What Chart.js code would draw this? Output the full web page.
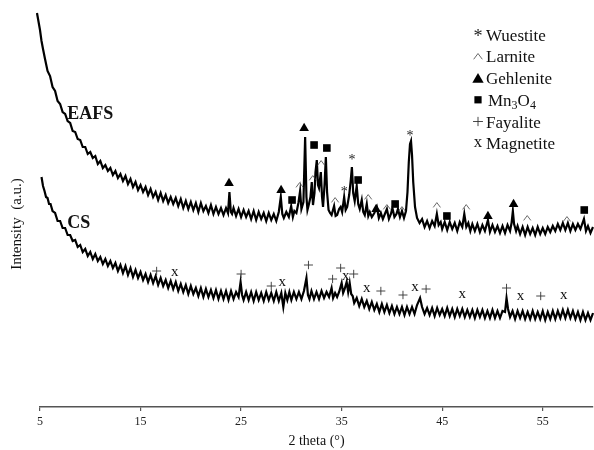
<!DOCTYPE html>
<html>
<head>
<meta charset="utf-8">
<script src="https://cdn.jsdelivr.net/npm/chart.js@4/dist/chart.umd.min.js"></script>
<style>
  html, body { margin: 0; padding: 0; background: #fff; }
  canvas { display: block; }
</style>
</head>
<body>
<canvas id="xrd" width="594" height="450"></canvas>
<script>
// XRD patterns, [2theta, intensity (a.u.)]
const eafs = [
  [4.7,394],[5.0,377],[5.15,366],[5.3,358],[5.5,348],[5.75,336],[6.0,331],[6.25,320],[6.5,316],
  [6.75,306],[7.0,303],[7.25,295],[7.5,293],[7.75,286],[8.0,284],[8.25,276],[8.5,275],[8.75,268],[9.0,267],
  [9.25,260],[9.5,260],[9.75,253],[10.0,255],[10.25,249],[10.5,251],[10.75,243],[11.0,246],[11.25,239],[11.5,242],
  [11.75,236],[12.0,239],[12.25,232],[12.5,236],[12.75,229],[13.0,233],[13.25,226],[13.5,231],[13.75,223],[14.0,228],
  [14.25,220],[14.5,225],[14.75,217],[15.0,222],[15.25,215],[15.5,220],[15.75,212],[16.0,218],[16.25,210],[16.5,215],
  [16.75,207],[17.0,214],[17.25,206],[17.5,212],[17.75,204],[18.0,210],[18.25,203],[18.5,209],[18.75,201],[19.0,208],
  [19.25,199],[19.5,206],[19.75,198],[20.0,205],[20.25,197],[20.5,204],[20.75,195],[21.0,204],[21.25,196],[21.5,201],
  [21.75,194],[22.0,202],[22.25,193],[22.5,200],[22.75,193],[23.0,199],[23.25,192],[23.5,199],[23.7,194],[23.84,215],
  [23.98,195],[24.1,193],[24.25,199],[24.5,191],[24.75,198],[25.0,190],[25.25,197],[25.5,190],[25.75,196],[26.0,188],
  [26.25,196],[26.5,187],[26.75,195],[27.0,188],[27.25,194],[27.5,186],[27.75,194],[28.0,187],[28.25,193],[28.5,186],
  [28.75,195],[28.95,210],[29.1,193],[29.25,189],[29.5,195],[29.75,190],[29.98,201],[30.15,190],[30.3,196],[30.5,194],
  [30.7,204],[30.87,216],[31.0,198],[31.2,205],[31.37,270],[31.5,210],[31.6,197],[31.75,203],[31.9,210],[32.03,225],
  [32.15,202],[32.3,214],[32.4,235],[32.53,247],[32.65,222],[32.75,219],[32.93,235],[33.05,210],[33.15,200],[33.3,222],
  [33.43,250],[33.55,215],[33.7,197],[33.85,194],[34.0,192],[34.25,201],[34.4,191],[34.55,192],[34.75,198],[34.9,200],
  [35.05,195],[35.25,210],[35.4,197],[35.55,200],[35.75,212],[35.9,226],[36.02,240],[36.15,214],[36.3,206],[36.5,221],
  [36.65,203],[36.8,198],[37.0,207],[37.15,195],[37.3,192],[37.5,203],[37.65,191],[37.8,195],[38.0,190],[38.25,194],
  [38.5,200],[38.7,189],[38.9,194],[39.1,188],[39.3,193],[39.5,198],[39.7,188],[39.9,193],[40.05,199],[40.25,190],
  [40.45,193],[40.6,198],[40.8,190],[41.0,196],[41.2,189],[41.4,196],[41.55,215],[41.68,245],[41.8,263],[41.9,266],
  [42.0,252],[42.12,225],[42.3,200],[42.5,189],[42.75,184],[43.0,188],[43.25,180],[43.5,186],[43.75,179],[44.0,186],
  [44.25,181],[44.47,193],[44.65,182],[44.85,185],[45.0,178],[45.25,185],[45.5,177],[45.75,185],[46.0,178],[46.25,184],
  [46.5,176],[46.75,185],[47.0,180],[47.2,193],[47.4,180],[47.6,184],[47.8,176],[48.0,183],[48.25,176],[48.5,183],
  [48.75,175],[49.0,182],[49.25,176],[49.55,187],[49.75,175],[50.0,182],[50.25,175],[50.5,181],[50.75,174],[51.0,181],
  [51.25,174],[51.5,182],[51.75,176],[51.9,184],[52.03,196],[52.15,183],[52.35,176],[52.5,181],[52.75,173],[53.0,180],
  [53.25,172],[53.5,180],[53.75,173],[54.0,179],[54.25,172],[54.5,180],[54.75,173],[55.0,179],[55.25,173],[55.5,180],
  [55.75,175],[56.0,181],[56.25,176],[56.5,183],[56.75,177],[57.0,184],[57.25,177],[57.5,184],[57.75,176],[58.0,183],
  [58.25,177],[58.5,183],[58.75,178],[59.1,188],[59.3,176],[59.5,181],[59.75,174],[60.0,180]
];

const cs = [
  [5.15,230],[5.3,221],[5.45,216],[5.6,210],[5.75,209],[5.9,203],[6.05,203],[6.25,196],[6.5,194],[6.75,186],
  [7.0,186],[7.25,179],[7.5,179],[7.75,172],[8.0,172],[8.25,166],[8.5,167],[8.75,160],[9.0,162],[9.25,155],
  [9.5,158],[9.75,151],[10.0,155],[10.25,148],[10.5,153],[10.75,146],[11.0,150],[11.25,143],[11.5,148],[11.75,141],
  [12.0,146],[12.25,139],[12.5,144],[12.75,136],[13.0,142],[13.25,134],[13.5,141],[13.75,132],[14.0,139],[14.25,130],
  [14.5,137],[14.75,129],[15.0,135],[15.25,127],[15.5,133],[15.75,125],[16.0,132],[16.25,124],[16.5,131],[16.75,122],
  [17.0,129],[17.25,121],[17.5,127],[17.75,119],[18.0,126],[18.25,118],[18.5,125],[18.75,116],[19.0,123],[19.25,115],
  [19.5,122],[19.75,113],[20.0,121],[20.25,113],[20.5,119],[20.75,111],[21.0,119],[21.25,110],[21.5,118],[21.75,110],
  [22.0,117],[22.25,109],[22.5,117],[22.75,108],[23.0,116],[23.25,108],[23.5,116],[23.75,107],[24.0,116],[24.25,108],
  [24.5,115],[24.75,110],[24.95,125],[25.1,112],[25.25,107],[25.5,115],[25.75,107],[26.0,115],[26.25,106],[26.5,115],
  [26.75,107],[27.0,114],[27.25,106],[27.5,115],[27.75,107],[28.0,114],[28.25,106],[28.5,115],[28.75,106],[29.0,114],
  [29.2,100],[29.4,114],[29.6,107],[29.8,115],[30.0,107],[30.25,115],[30.5,108],[30.75,115],[31.0,108],[31.25,116],
  [31.5,129],[31.65,112],[31.8,108],[32.0,116],[32.25,108],[32.5,115],[32.75,108],[33.0,116],[33.25,109],[33.5,115],
  [33.75,110],[34.0,119],[34.15,109],[34.35,114],[34.55,110],[34.75,115],[35.0,124],[35.15,114],[35.3,118],[35.5,125],
  [35.65,115],[35.8,124],[35.95,113],[36.1,111],[36.25,104],[36.5,109],[36.75,101],[37.0,108],[37.25,100],[37.5,106],
  [37.75,98],[38.0,105],[38.25,97],[38.5,103],[38.75,95],[39.0,103],[39.25,95],[39.5,102],[39.75,94],[40.0,101],
  [40.25,93],[40.5,100],[40.75,93],[41.0,100],[41.25,92],[41.5,100],[41.75,93],[42.0,100],[42.25,93],[42.5,102],
  [42.8,109],[43.0,100],[43.25,93],[43.5,99],[43.75,92],[44.0,99],[44.25,91],[44.5,99],[44.75,92],[45.0,98],
  [45.25,91],[45.5,99],[45.75,91],[46.0,98],[46.25,90],[46.5,98],[46.75,91],[47.0,98],[47.25,90],[47.5,97],
  [47.75,90],[48.0,97],[48.25,89],[48.5,97],[48.75,90],[49.0,97],[49.25,89],[49.5,96],[49.75,89],[50.0,97],
  [50.25,89],[50.5,96],[50.75,89],[51.0,96],[51.25,95],[51.4,109],[51.55,98],[51.75,90],[52.0,96],[52.25,88],
  [52.5,96],[52.75,89],[53.0,96],[53.25,88],[53.5,95],[53.75,88],[54.0,96],[54.25,88],[54.5,95],[54.75,88],
  [55.0,96],[55.25,87],[55.5,95],[55.75,88],[56.0,96],[56.25,88],[56.5,96],[56.75,89],[57.0,97],[57.25,89],
  [57.5,97],[57.75,89],[58.0,96],[58.25,88],[58.5,95],[58.75,87],[59.0,95],[59.25,87],[59.5,94],[59.75,87],[60.0,94]
];

const xTicks = [5, 15, 25, 35, 45, 55];

// phase marks above the peaks, [2theta, intensity]
const wuestiteMarks = [[35.25,218],[36.04,250],[41.8,274]];
const larniteMarks = [[30.82,222],[32.13,229],[32.96,244],[34.35,207],[37.64,210],[39.5,200],[41.0,198],[44.47,202],[47.39,200],[53.46,189],[57.41,188]];
const gehleniteMarks = [[23.8,225],[28.98,218],[31.27,280],[38.43,199],[49.55,192],[52.1,204]];
const mn3o4Marks = [[30.07,207],[32.26,262],[33.53,259],[36.64,227],[40.32,203],[45.47,191],[59.13,197]];
const fayaliteMarks = [[16.6,136],[25.0,133],[28.0,121],[31.7,142],[34.1,128],[34.9,139],[36.2,133],[38.9,116],[41.1,112],[43.4,118],[51.4,119],[54.8,111]];
const magnetiteMarks = [[18.4,134],[29.1,124],[35.4,130],[37.5,118],[42.3,119],[47.0,112],[52.8,110],[57.1,111]];

const sampleLabels = [['EAFS', 7.7, 288], ['CS', 7.7, 179]];

const SERIF = '"Liberation Serif", "Times New Roman", serif';

function drawSymbol(ctx, kind, cx, cy, s) {
    ctx.save();
    ctx.fillStyle = '#000';
    if (kind === 'star') {
        const fs = 14 * s;
        ctx.font = `${fs}px ${SERIF}`;
        ctx.textAlign = 'center';
        ctx.textBaseline = 'alphabetic';
        ctx.fillStyle = '#222';
        ctx.fillText('*', cx, cy + 0.5 * fs);
    } else if (kind === 'caret') {
        ctx.strokeStyle = '#444';
        ctx.lineWidth = 0.8;
        ctx.beginPath();
        ctx.moveTo(cx - 3.6 * s, cy + 2.4 * s);
        ctx.lineTo(cx, cy - 2.4 * s);
        ctx.lineTo(cx + 3.6 * s, cy + 2.4 * s);
        ctx.stroke();
    } else if (kind === 'tri') {
        ctx.beginPath();
        ctx.moveTo(cx, cy - 4.3 * s);
        ctx.lineTo(cx + 4.8 * s, cy + 4 * s);
        ctx.lineTo(cx - 4.8 * s, cy + 4 * s);
        ctx.closePath();
        ctx.fill();
    } else if (kind === 'sq') {
        ctx.fillRect(cx - 3.8 * s, cy - 3.8 * s, 7.6 * s, 7.6 * s);
    } else if (kind === 'plus') {
        ctx.strokeStyle = '#333';
        ctx.lineWidth = 0.9;
        ctx.beginPath();
        ctx.moveTo(cx - 4.5 * s, cy);
        ctx.lineTo(cx + 4.5 * s, cy);
        ctx.moveTo(cx, cy - 4.2 * s);
        ctx.lineTo(cx, cy + 4.2 * s);
        ctx.stroke();
    } else if (kind === 'ex') {
        const fs = 15 * s;
        ctx.font = `${fs}px ${SERIF}`;
        ctx.textAlign = 'center';
        ctx.textBaseline = 'alphabetic';
        ctx.fillStyle = '#111';
        ctx.fillText('x', cx, cy + 0.23 * fs);
    }
    ctx.restore();
}

const phases = [
    { name: 'Wuestite', symbol: 'star', marks: wuestiteMarks, legendScale: 1.3 },
    { name: 'Larnite', symbol: 'caret', marks: larniteMarks, legendScale: 1.2 },
    { name: 'Gehlenite', symbol: 'tri', marks: gehleniteMarks, legendScale: 1.18 },
    { name: 'Mn3O4', symbol: 'sq', marks: mn3o4Marks, legendScale: 0.95 },
    { name: 'Fayalite', symbol: 'plus', marks: fayaliteMarks, legendScale: 1.1 },
    { name: 'Magnetite', symbol: 'ex', marks: magnetiteMarks, legendScale: 1.12 }
];

const annotate = {
    id: 'annotate',
    afterDatasetsDraw(chart) {
        const { ctx, scales: { x, y } } = chart;

        // phase symbols over the peaks
        phases.forEach(p => p.marks.forEach(([t, v]) =>
            drawSymbol(ctx, p.symbol, x.getPixelForValue(t), y.getPixelForValue(v), 1)));

        // sample names
        ctx.save();
        ctx.fillStyle = '#111';
        ctx.font = `bold 18px ${SERIF}`;
        ctx.textAlign = 'left';
        ctx.textBaseline = 'alphabetic';
        sampleLabels.forEach(([txt, t, v]) => ctx.fillText(txt, x.getPixelForValue(t), y.getPixelForValue(v)));
        ctx.restore();

        // legend
        ctx.save();
        ctx.fillStyle = '#111';
        ctx.textBaseline = 'alphabetic';
        ctx.textAlign = 'left';
        phases.forEach((p, i) => {
            const base = 40.7 + i * 21.7;
            const lift = p.symbol === 'star' ? 8 : 6;
            drawSymbol(ctx, p.symbol, 478, base - lift, p.legendScale);
            ctx.fillStyle = '#111';
            if (p.name === 'Mn3O4') {
                let cx = 488;
                [['Mn', 17, 0], ['3', 12, 3], ['O', 17, 0], ['4', 12, 3]].forEach(([s, fs, dy]) => {
                    ctx.font = `${fs}px ${SERIF}`;
                    ctx.fillText(s, cx, base + dy);
                    cx += ctx.measureText(s).width;
                });
            } else {
                ctx.font = `17px ${SERIF}`;
                ctx.fillText(p.name, 486, base);
            }
        });
        ctx.restore();

        // y axis title
        ctx.save();
        ctx.translate(17, 224);
        ctx.rotate(-Math.PI / 2);
        ctx.fillStyle = '#111';
        ctx.font = `15px ${SERIF}`;
        ctx.textAlign = 'center';
        ctx.textBaseline = 'middle';
        ctx.fillText('Intensity  (a.u.)', 0, 0);
        ctx.restore();
    }
};

const toPoints = arr => arr.map(([t, v]) => ({ x: t, y: v }));

new Chart(document.getElementById('xrd'), {
    type: 'line',
    data: {
        datasets: [
            { label: 'EAFS', data: toPoints(eafs), borderColor: '#000', borderWidth: 2.2, pointRadius: 0, tension: 0, clip: false },
            { label: 'CS', data: toPoints(cs), borderColor: '#000', borderWidth: 2.2, pointRadius: 0, tension: 0, clip: false }
        ]
    },
    options: {
        responsive: false,
        animation: false,
        events: [],
        layout: { padding: { left: 40, right: 1, top: 7, bottom: 0 } },
        plugins: { legend: { display: false }, tooltip: { enabled: false } },
        scales: {
            x: {
                type: 'linear',
                min: 5,
                max: 60,
                afterBuildTicks: axis => { axis.ticks = xTicks.map(v => ({ value: v })); },
                afterFit: axis => { axis.height = 43; },
                border: { color: '#555', width: 1.6 },
                grid: { drawOnChartArea: false, tickLength: 4, color: '#555', lineWidth: 1.2 },
                ticks: { padding: 4, color: '#222', font: { family: SERIF, size: 12 } },
                title: { display: true, text: '2 theta (°)', color: '#111', font: { family: SERIF, size: 14 }, padding: { top: 0, bottom: 0 } }
            },
            y: { display: false, min: 0, max: 400 }
        }
    },
    plugins: [annotate]
});
</script>
</body>
</html>
